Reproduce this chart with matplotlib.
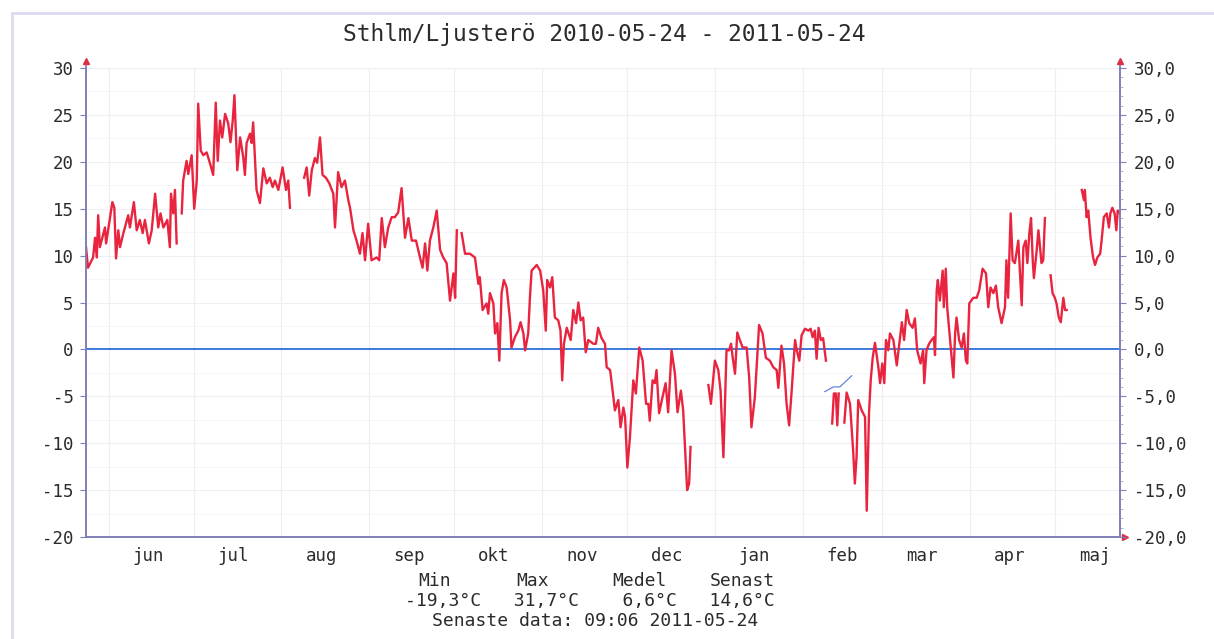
import numpy as np
import pandas as pd
import matplotlib
matplotlib.use('Agg')
import matplotlib.pyplot as plt
import matplotlib.dates as mdates
from matplotlib.ticker import FuncFormatter, MultipleLocator
from matplotlib.lines import Line2D

start = pd.Timestamp('2010-05-24')
end = pd.Timestamp('2011-05-24')

# dagar efter startdatum och temperatur (°C), nan = avbrott i serien
days = [
    0.0, 0.7, 2.5, 3.2, 3.8, 4.3, 4.9, 6.7, 7.1, 8.5, 9.3, 10.0, 10.6, 11.4, 12.0, 13.2,
    14.9, 15.5, 16.9, 17.9, 19.0, 20.0, 20.8, 22.2, 23.2, 24.4, 25.5, 26.3, 27.3, 28.7,
    29.6, 30.0, 30.8, 31.4, 32.0, 33.0,
    33.8, 34.3, 35.5, 36.1, 37.3, 38.2, 39.1, 39.6, 40.5, 41.4, 42.6, 43.8, 44.9, 45.8,
    46.5, 47.3, 48.1, 49.1, 50.2, 51.0, 51.8, 52.4, 53.4, 54.4, 55.5, 56.1, 56.7, 57.9,
    58.5, 59.0, 60.2, 61.4, 62.6, 63.8, 64.9, 65.9, 66.7, 67.9, 69.4, 70.6, 71.4, 72.0, 74.0,
    77.0, 77.9, 78.8, 79.7, 80.8, 81.6, 82.6, 83.5, 84.7, 85.9, 87.3, 87.9, 89.0, 90.2,
    91.4, 92.6, 93.2, 94.4, 95.5, 96.7, 97.6, 98.5, 99.6, 100.8, 102.6, 103.5, 104.4,
    105.5, 106.7, 107.9, 109.0, 110.2, 111.4, 112.6, 113.8, 115.0, 116.5, 117.9, 118.8,
    119.7, 120.5, 121.4, 122.6, 123.8, 125.0, 126.1, 127.3, 128.5, 129.7, 130.3, 130.9, 131.8,
    132.6, 133.8, 135.5, 137.3, 138.5, 139.0, 140.0, 141.4, 142.0, 142.6, 143.8, 144.4,
    145.2, 145.9, 146.7, 147.5, 148.5, 149.7, 150.2, 151.4, 152.6, 153.4, 154.4, 155.0,
    156.1, 156.7, 157.3, 159.1, 160.3, 161.4, 162.3, 162.8, 163.8, 164.6, 165.5, 166.7,
    167.5, 168.1, 168.7, 169.7, 171.1, 172.0, 173.0, 173.8, 174.6, 175.5, 176.4, 177.3,
    179.1, 180.0, 180.8, 182.0, 183.2, 183.8, 185.0, 185.9, 186.7, 187.9, 188.7, 189.7,
    190.3, 191.1, 192.0, 193.2, 194.1, 195.3, 196.5, 197.7, 198.5, 199.0, 200.0, 200.8,
    201.4, 202.3, 203.5, 204.6, 205.5, 206.7, 207.9, 208.8, 210.0, 210.8, 212.2, 212.9,
    213.4, 216.0,
    219.7, 220.6, 222.0, 223.2, 224.0, 225.0, 226.1, 227.0, 227.7, 228.3, 229.1, 229.9,
    230.8, 231.8, 233.2, 234.1, 234.9, 236.1, 237.6, 238.8, 240.0, 241.4, 242.6, 243.8,
    244.4, 245.5, 246.4, 247.3, 248.2, 249.1, 250.3, 250.9, 251.8, 252.6, 253.8, 255.0,
    255.8, 256.5, 257.3, 257.9, 258.6, 259.4, 260.2, 261.2, 262.3,
    263.4, 264.0, 264.7, 265.2, 265.7, 266.7,
    267.7, 268.5, 269.7, 270.8, 271.4, 272.0, 272.6, 273.8, 275.0, 275.6, 276.4, 277.0,
    277.7, 278.5, 279.7, 280.3, 281.1, 281.8, 282.4, 283.2, 283.8, 285.0, 286.2, 287.1,
    288.0, 288.8, 289.7, 290.6, 291.8, 292.6, 293.4, 294.6, 295.5, 295.9, 296.7, 297.6,
    298.5, 299.3, 299.7, 300.3, 300.7, 301.4, 302.4, 302.8, 303.5, 304.0, 306.2, 306.8,
    307.3, 308.2, 309.1, 309.9, 310.6, 311.1, 311.8, 313.2, 314.4, 315.3, 316.5, 317.7,
    318.5, 319.3, 320.3, 321.2, 322.0, 323.2, 324.4, 324.9, 325.5, 326.4, 327.1, 327.9,
    329.1, 330.3, 330.9, 331.7, 332.3, 333.0, 333.6, 334.2, 334.6, 335.6, 336.2, 337.3,
    337.9, 338.5, 339.5,
    340.5, 341.2, 342.0, 342.6, 343.4, 344.1, 345.0, 345.6, 346.2, 349.0,
    351.5, 352.3, 352.6, 353.2, 353.8, 354.6, 355.5, 356.2, 357.0, 358.0, 358.5, 359.3,
    360.3, 361.1, 361.6, 362.3, 363.1, 363.7, 364.2, 364.6,
]
temps = [
    10.9, 8.7, 9.8, 11.9, 9.8, 14.3, 10.9, 13.0, 11.3, 14.1, 15.7, 15.1, 9.7, 12.7, 10.9, 12.4,
    14.3, 13.0, 15.7, 12.7, 13.8, 12.4, 13.8, 11.3, 12.7, 16.6, 13.0, 14.5, 13.0, 13.8,
    10.9, 16.6, 14.5, 17.0, 11.3, np.nan,
    14.5, 18.0, 20.1, 18.7, 20.7, 15.0, 18.0, 26.2, 21.2, 20.7, 21.0, 19.8, 18.6, 26.3,
    20.1, 24.4, 22.6, 25.1, 24.1, 22.1, 24.4, 27.1, 19.1, 22.6, 20.5, 18.6, 22.0, 23.0,
    22.0, 24.2, 17.0, 15.6, 19.3, 17.7, 18.3, 17.3, 18.0, 17.0, 19.4, 17.0, 18.0, 15.1, np.nan,
    18.3, 19.4, 16.4, 19.1, 20.4, 19.9, 22.6, 18.6, 18.3, 17.7, 16.6, 13.0, 18.9, 17.3,
    18.0, 15.9, 15.1, 12.7, 11.6, 10.2, 12.4, 9.5, 13.4, 9.5, 9.8, 9.5, 14.0,
    10.9, 13.0, 14.1, 14.1, 14.6, 17.2, 11.9, 14.0, 11.6, 11.6, 9.8, 8.7,
    11.3, 8.4, 11.6, 13.0, 14.8, 10.6, 9.8, 9.2, 5.2, 8.1, 5.5, 12.7, np.nan,
    12.4, 10.2, 10.2, 9.8, 7.0, 7.7, 4.2, 4.9, 3.8, 6.0, 4.9, 1.7,
    2.8, -1.2, 6.0, 7.4, 6.6, 3.1, 0.2, 1.3, 2.0, 2.9, 1.7, -0.1,
    1.7, 5.5, 8.4, 9.0, 8.4, 6.3, 2.0, 7.4, 6.6, 7.7, 3.4, 3.1,
    2.0, -3.3, 0.6, 2.3, 1.0, 4.2, 2.8, 5.0, 3.1, 3.4, -0.3, 1.0,
    0.6, 0.6, 2.3, 1.2, 0.6, -1.9, -2.2, -4.4, -6.5, -5.4, -8.3, -6.2,
    -7.2, -12.6, -9.4, -3.3, -4.7, 0.2, -1.2, -5.8, -5.8, -7.6, -3.3, -3.6,
    -2.2, -6.8, -5.1, -3.6, -6.7, -0.1, -2.6, -6.7, -4.4, -6.5, -15.0, -14.3,
    -10.4, np.nan,
    -3.8, -5.8, -1.2, -2.2, -4.4, -11.5, -0.1, -0.1, 0.6, -0.9, -2.6, 1.8,
    1.0, 0.2, 0.2, -3.0, -8.3, -5.1, 2.6, 1.7, -0.9, -1.2, -1.9, -2.2,
    -4.1, 0.4, -1.5, -5.8, -8.1, -4.4, 1.0, -0.1, -1.2, 1.5, 2.2, 2.0,
    2.2, 1.3, 2.0, -1.0, 2.3, 1.0, 1.2, -1.2, np.nan,
    -7.9, -4.7, -4.7, -8.1, -4.7, np.nan,
    -7.8, -4.6, -5.8, -10.8, -14.3, -11.5, -5.4, -6.5, -7.2, -17.2, -6.8, -3.3,
    -0.9, 0.7, -1.9, -3.6, -1.5, -3.6, 1.0, -0.1, 1.7, 1.0, -1.7, 0.6,
    2.9, 1.0, 4.2, 2.8, 2.3, 3.3, -0.1, -1.5, -0.1, -3.6, -0.1, 0.6,
    1.0, 1.3, -0.6, 6.3, 7.4, 5.2, 8.4, 4.5, 8.6, 4.5, -3.0, 1.7,
    3.4, 1.0, 0.2, 1.7, -1.2, -1.5, 4.9, 5.5, 5.5, 6.3, 8.6, 8.1,
    4.5, 6.6, 6.0, 6.8, 4.5, 2.8, 4.5, 9.5, 5.5, 14.5, 9.5, 9.2,
    11.6, 4.7, 10.9, 11.6, 9.2, 12.4, 14.0, 9.5, 7.6, 10.6, 12.7, 9.2,
    9.5, 14.0, np.nan,
    7.9, 6.0, 5.5, 4.9, 3.4, 2.9, 5.5, 4.2, 4.2, np.nan,
    17.0, 15.9, 17.0, 14.1, 14.8, 11.9, 9.8, 9.0, 9.8, 10.2, 11.6, 14.1,
    14.5, 13.0, 14.5, 15.1, 14.5, 12.7, 14.8, 14.6,
]

# kort tunn blå kurva i februari
blue_days = [260.8, 263.8, 266.1, 267.9, 270.3]
blue_temps = [-4.5, -4.0, -4.0, -3.5, -2.8]

month_names = ['jan', 'feb', 'mar', 'apr', 'maj', 'jun',
               'jul', 'aug', 'sep', 'okt', 'nov', 'dec']
stat_labels = ['Min', 'Max', 'Medel', 'Senast']
stat_values = ['-19,3°C', '31,7°C', '6,6°C', '14,6°C']
title = 'Sthlm/Ljusterö 2010-05-24 - 2011-05-24'
last_data = 'Senaste data: 09:06 2011-05-24'

mono = 'DejaVu Sans Mono'
plt.rcParams['font.family'] = mono
axis_col = '#8080b8'
red = '#e8243f'
txt = '#2b2b2b'

fig = plt.figure(figsize=(12.14, 6.39), dpi=100)
fig.patch.set_facecolor('white')
ax = fig.add_axes([86 / 1214, 102 / 639, 1034 / 1214, 469 / 639])

t0 = mdates.date2num(start)
x = t0 + np.array(days)
y = np.array(temps)

ax.axhline(0, color='#2f6fdc', lw=1.3, zorder=2)
ax.plot(x, y, color=red, lw=1.7, zorder=3, solid_joinstyle='round')
ax.plot(t0 + np.array(blue_days), blue_temps, color='#5577dd', lw=0.8, zorder=3)

ax.set_xlim(t0, mdates.date2num(end))
ax.set_ylim(-20, 30)

ax.xaxis.set_major_locator(mdates.MonthLocator(bymonthday=15))
ax.xaxis.set_major_formatter(FuncFormatter(
    lambda v, p: month_names[mdates.num2date(v).month - 1]))
ax.xaxis.set_minor_locator(mdates.MonthLocator(bymonthday=1))
ax.tick_params(axis='x', which='major', length=0, pad=7, labelsize=12.5, labelcolor=txt)
ax.tick_params(axis='x', which='minor', length=0)
ax.grid(axis='x', which='minor', color='#f7eaef', lw=0.8)

ax.yaxis.set_major_locator(MultipleLocator(5))
ax.yaxis.set_minor_locator(MultipleLocator(2.5))
ax.yaxis.set_major_formatter(FuncFormatter(lambda v, p: str(int(round(v)))))
ax.tick_params(axis='y', which='major', length=4, color=axis_col, pad=5,
               labelsize=12.5, labelcolor=txt)
ax.tick_params(axis='y', which='minor', length=0)
ax.grid(axis='y', which='major', color='#eeeef5', lw=0.8)
ax.grid(axis='y', which='minor', color='#f5f5f9', lw=0.6)

ax2 = ax.twinx()
ax2.set_ylim(-20, 30)
ax2.yaxis.set_major_locator(MultipleLocator(5))
ax2.yaxis.set_minor_locator(MultipleLocator(1))
ax2.yaxis.set_major_formatter(FuncFormatter(lambda v, p: f'{v:.1f}'.replace('.', ',')))
ax2.tick_params(axis='y', which='major', length=4, color=axis_col, pad=6,
                labelsize=12.5, labelcolor=txt)
ax2.tick_params(axis='y', which='minor', length=2, color='#a0a0cc')

for a in (ax, ax2):
    a.spines['top'].set_visible(False)
    for s in ('left', 'right', 'bottom'):
        a.spines[s].set_color(axis_col)
        a.spines[s].set_linewidth(1.2)

# pilar på axlarna
arrow_kw = dict(transform=ax.transAxes, clip_on=False, color='#d9304a',
                markersize=5, zorder=5)
ax.plot([0, 0], [1, 1.012], color=axis_col, lw=1.2, transform=ax.transAxes, clip_on=False)
ax.plot([1, 1], [1, 1.012], color=axis_col, lw=1.2, transform=ax.transAxes, clip_on=False)
ax.plot([0], [1.014], marker='^', **arrow_kw)
ax.plot([1], [1.014], marker='^', **arrow_kw)
ax.plot([1.005], [0], marker='>', **arrow_kw)

fig.text(604 / 1214, 1 - 34 / 639, title, ha='center', va='center',
         fontsize=16.5, color=txt)

label_x = [418, 516, 612, 710]
for lx, lab in zip(label_x, stat_labels):
    fig.text(lx / 1214, 1 - 581 / 639, lab, ha='left', va='center', fontsize=13, color=txt)
fig.text(405 / 1214, 1 - 601 / 639, '   '.join([stat_values[0], stat_values[1]]) + '    '
         + '   '.join([stat_values[2], stat_values[3]]),
         ha='left', va='center', fontsize=13, color=txt)
fig.text(432 / 1214, 1 - 621 / 639, last_data, ha='left', va='center', fontsize=13, color=txt)

# ljus ram runt bilden
fig.add_artist(Line2D([12 / 1214, 12 / 1214], [0, 1 - 13 / 639], color='#dcdcf0', lw=2))
fig.add_artist(Line2D([12 / 1214, 1], [1 - 13 / 639, 1 - 13 / 639], color='#dcdcf0', lw=2))

fig.savefig('out.png', dpi=100)
